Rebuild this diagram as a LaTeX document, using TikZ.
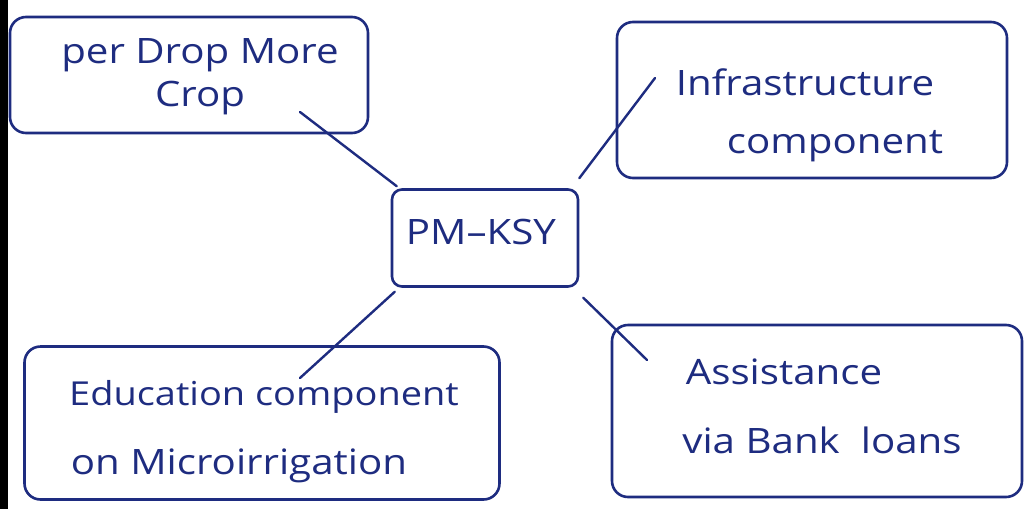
\documentclass[tikz,border=0pt]{standalone}
\usepackage{fontspec}
\setmainfont{Open Sans}[FakeStretch=1.15]
\definecolor{ink}{RGB}{30,44,128}
\begin{document}
\begin{tikzpicture}[x=1pt,y=-1pt,
  box/.style={draw=ink, line width=2.6pt, rounded corners=16pt, inner sep=0pt},
  lbl/.style={text=ink, inner sep=0pt, font=\fontsize{35}{40}\selectfont},
  link/.style={draw=ink, line width=2.4pt, line cap=round}]
  % page
  \fill[white] (0,0) rectangle (1028,509);
  \useasboundingbox (0,0) rectangle (1028,509);
  \fill[black] (0,0) rectangle (8,509);

  % boxes
  \node[box, minimum width=358pt, minimum height=116pt] (b1) at (189,75) {};
  \node[box, minimum width=390pt, minimum height=156pt] (b2) at (812,100) {};
  \node[box, minimum width=186pt, minimum height=97pt, rounded corners=10pt] (pm) at (485,238) {};
  \node[box, minimum width=475pt, minimum height=153pt] (b3) at (262,423) {};
  \node[box, minimum width=410pt, minimum height=172pt] (b4) at (817,411) {};

  % labels
  \node[lbl] (t1a) at (200,55) {per Drop More};
  \node[lbl] (t1b) at (200,98) {Crop};
  \node[lbl] (t2a) at (805,82) {Infrastructure};
  \node[lbl] (t2b) at (835,146) {component};
  \node[lbl] (tpm) at (481,232) {PM--KSY};
  \node[lbl, font=\fontsize{33}{40}\selectfont] (t3a) at (264,397) {Education component};
  \node[lbl] (t3b) at (239,466) {on Microirrigation};
  \node[lbl] (t4a) at (784,372) {Assistance};
  \node[lbl] (t4b) at (822,440) {via Bank\hspace{0.3em} loans};

  % connector ends inside the outer boxes
  \coordinate (e1) at (300,112);
  \coordinate (e2) at (655,78);
  \coordinate (e3) at (300,378);
  \coordinate (e4) at (647,360);

  % connectors
  \draw[link] (e1) -- ([shift={(6,-2)}]pm.north west);
  \draw[link] (e2) -- ([shift={(0,-10)}]pm.north east);
  \draw[link] (e3) -- ([shift={(4,4)}]pm.south west);
  \draw[link] (e4) -- ([shift={(4,10)}]pm.south east);
\end{tikzpicture}
\end{document}
